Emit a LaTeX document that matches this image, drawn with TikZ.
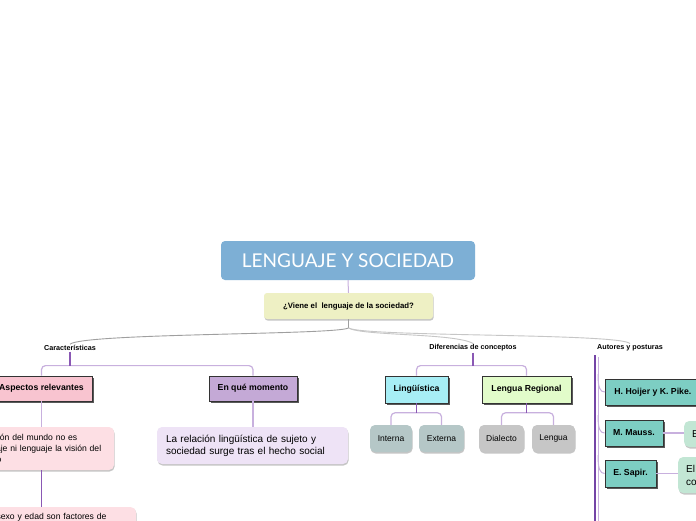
\documentclass[tikz,border=0pt]{standalone}
\usepackage{fontspec}
\setmainfont{Liberation Sans}
\newfontfamily\titlefont{Lato}
\usetikzlibrary{shadows}
\definecolor{titleblue}{HTML}{7DAFD5}
\definecolor{qfill}{HTML}{EEF0C4}
\definecolor{aspfill}{HTML}{F8C4D0}
\definecolor{enqfill}{HTML}{C4A9D6}
\definecolor{asptxtfill}{HTML}{FDDFE4}
\definecolor{enqtxtfill}{HTML}{EEE3F6}
\definecolor{lingfill}{HTML}{A7EEF5}
\definecolor{lregfill}{HTML}{E2FCCA}
\definecolor{intfill}{HTML}{B5C7C7}
\definecolor{dialfill}{HTML}{C6C6C6}
\definecolor{tealfill}{HTML}{7DCEC3}
\definecolor{lgreen}{HTML}{C2E6D4}
\definecolor{conlightc}{HTML}{C8B0DE}
\definecolor{condarkc}{HTML}{8A58B4}
\definecolor{autdarkc}{HTML}{7444A6}
\tikzset{
  lvltwo/.style={draw=black!80, line width=0.8pt, inner sep=0pt,
    font=\bfseries\fontsize{8.7}{10}\selectfont,
    drop shadow={shadow xshift=2pt,shadow yshift=-2pt,fill=black!65,opacity=1}},
  leaf/.style={rounded corners=5pt, inner sep=0pt,
    drop shadow={shadow xshift=0.6pt,shadow yshift=-1.5pt,fill=black!45,opacity=0.5}},
  lbl/.style={font=\bfseries\fontsize{7.2}{8}\selectfont, inner sep=1pt},
  lightcon/.style={draw=conlightc, line width=1.2pt, rounded corners=4pt},
  darkcon/.style={draw=condarkc, line width=1.2pt},
  topline/.style={draw=gray!75, line width=0.9pt},
  toplinel/.style={draw=gray!45, line width=0.9pt},
  smalltxt/.style={font=\fontsize{8.5}{10}\selectfont},
}
\begin{document}
\begin{tikzpicture}[x=1pt,y=-1pt]
\useasboundingbox (0,0) rectangle (696,520);
\fill[white] (0,0) rectangle (696,520);
\clip (0,0) rectangle (696,520);

% title and question
\node[fill=titleblue, rounded corners=4pt, minimum width=254pt, minimum height=39pt,
  text=white, font=\titlefont\fontsize{19}{20}\selectfont] (title) at (348,260.5) {LENGUAJE Y SOCIEDAD};
\node[leaf, rounded corners=3pt, fill=qfill, minimum width=169pt, minimum height=26pt,
  font=\bfseries\fontsize{7.8}{9}\selectfont] (q) at (348.5,306) {¿Viene el~ lenguaje de la sociedad?};
\draw[draw=conlightc, line width=1pt] (title.south) -- (q.north);

% first level labels
\node[lbl] (carac) at (70,348) {Características};
\node[lbl] (dif) at (473,348) {Diferencias de conceptos};
\node[lbl] (aut) at (630,348) {Autores y posturas};

\coordinate (qd) at (348.5,328);
\draw[topline] (q.south) -- (qd);
\draw[topline] (qd) .. controls (335,335) and (85,333) .. (carac.north);
\draw[toplinel] (qd) .. controls (362,336) and (455,333) .. (dif.north);
\draw[toplinel] (qd) .. controls (365,337) and (620,333) .. (aut.north);

% Caracteristicas branch
\node[lvltwo, fill=aspfill, minimum width=101pt, minimum height=25pt] (asp) at (41.5,388.5) {Aspectos relevantes};
\node[lvltwo, fill=enqfill, minimum width=88pt, minimum height=25pt] (enq) at (253,388.5) {En qué momento};
\coordinate (caracj) at (70,366);
\draw[lightcon] (asp.north) -- ++(0,-10) -| (enq.north);
\draw[darkcon] (carac.south) -- (caracj);

\node[leaf, fill=asptxtfill, minimum width=150pt, minimum height=43pt, text width=128pt,
  align=left, font=\fontsize{8.6}{11}\selectfont] (asptxt) at (39,448.5)
  {La visión del mundo no es\\lenguaje ni lenguaje la visión del\\mundo};
\draw[lightcon] (asp.south) -- (asp.south |- asptxt.north);

\node[leaf, fill=asptxtfill, anchor=north, minimum width=160pt, text width=140pt, inner ysep=6pt,
  align=left, font=\fontsize{8.6}{11}\selectfont] (bottom) at (56,507)
  {El sexo y edad son factores de\\ \strut};
\draw[draw=condarkc, line width=1.6pt] (asp.south |- asptxt.south) -- (asp.south |- bottom.north);

\node[leaf, fill=enqtxtfill, minimum width=191pt, minimum height=37pt, text width=173pt,
  align=left, font=\fontsize{10}{12}\selectfont] (enqtxt) at (252.5,445.5)
  {La relación lingüística de sujeto y\\sociedad surge tras el hecho social};
\draw[lightcon] (enq.south) -- (enq.south |- enqtxt.north);

% Diferencias branch
\node[lvltwo, fill=lingfill, minimum width=63pt, minimum height=27pt] (ling) at (416.5,389.5) {Lingüística};
\node[lvltwo, fill=lregfill, minimum width=89pt, minimum height=27pt] (lreg) at (526.5,389.5) {Lengua Regional};
\coordinate (difj) at (473,366);
\draw[lightcon] (ling.north) -- ++(0,-10) -| (lreg.north);
\draw[darkcon] (dif.south) -- (difj);

\node[leaf, smalltxt, fill=intfill, minimum width=42pt, minimum height=27pt] (interna) at (391,438.5) {Interna};
\node[leaf, smalltxt, fill=intfill, minimum width=45pt, minimum height=27pt] (externa) at (441.5,438.5) {Externa};
\node[leaf, smalltxt, fill=dialfill, minimum width=45pt, minimum height=27pt] (dialecto) at (501.5,438.5) {Dialecto};
\node[leaf, smalltxt, fill=dialfill, minimum width=43pt, minimum height=27pt] (lengua) at (553.5,438.5) {Lengua};
\coordinate (lingj) at (416.5,413);
\coordinate (lregj) at (526.5,413);
\draw[lightcon] (interna.north) -- ++(0,-12) -| (externa.north);
\draw[lightcon] (dialecto.north) -- ++(0,-12) -| (lengua.north);
\draw[darkcon] (ling.south) -- (lingj);
\draw[darkcon] (lreg.south) -- (lregj);

% Autores branch
\node[lvltwo, fill=tealfill, anchor=west, minimum height=26pt, inner xsep=9pt] (hoijer) at (605,392) {H. Hoijer y K. Pike.};
\node[lvltwo, fill=tealfill, minimum width=58pt, minimum height=26pt] (mauss) at (634,433) {M. Mauss.};
\node[lvltwo, fill=tealfill, minimum width=51pt, minimum height=27pt] (sapir) at (630.5,473.5) {E. Sapir.};
\node[leaf, fill=lgreen, anchor=west, minimum height=26pt, text width=60pt, inner xsep=8pt,
  align=left, font=\fontsize{10}{12}\selectfont] (mausstxt) at (684,434) {El};
\node[leaf, fill=lgreen, anchor=west, minimum height=36pt, text width=60pt, inner xsep=8pt,
  align=left, font=\fontsize{10}{13}\selectfont] (sapirtxt) at (678,475) {El\\co};
\draw[lightcon] (mauss.east) -- (mauss.east -| mausstxt.west);
\draw[lightcon] (sapir.east) -- (sapir.east -| sapirtxt.west);

\coordinate (autj) at (595,355);
\coordinate (autend) at (595,530);
\coordinate (autj2) at (598,357);
\coordinate (autend2) at (598,530);
\coordinate (hj) at (598,374);
\coordinate (mj) at (598,415);
\coordinate (sj) at (598,455);
\draw[draw=conlightc, line width=1pt] (autj2) -- (autend2);
\draw[draw=autdarkc, line width=1.8pt] (autj) -- (autend);
\draw[draw=conlightc, line width=1pt] (hj) .. controls (598,388) and (600,392) .. (hoijer.west);
\draw[draw=conlightc, line width=1pt] (mj) .. controls (598,429) and (600,433) .. (mauss.west);
\draw[draw=conlightc, line width=1pt] (sj) .. controls (598,469) and (600,473.5) .. (sapir.west);
\end{tikzpicture}
\end{document}
